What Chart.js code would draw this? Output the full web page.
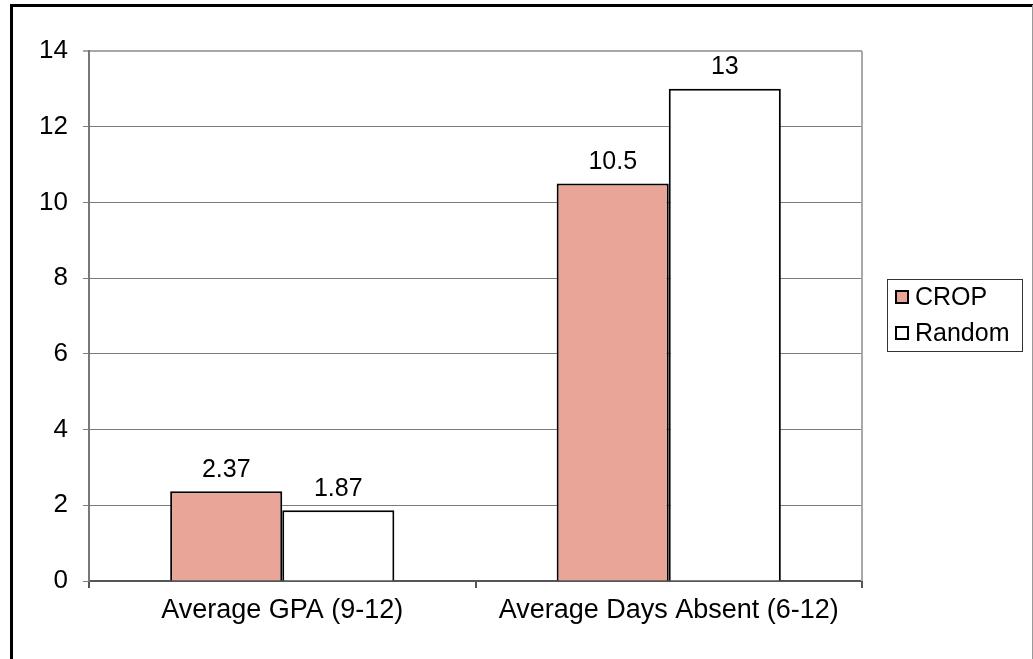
<!DOCTYPE html>
<html>
<head>
<meta charset="utf-8">
<script src="https://cdn.jsdelivr.net/npm/chart.js@4/dist/chart.umd.min.js"></script>
<style>
  html, body { margin: 0; padding: 0; background: #fff; }
  #wrap { width: 1033px; height: 659px; position: relative; }
</style>
</head>
<body>
<div id="wrap"><canvas id="myChart" width="1033" height="659"></canvas></div>
<script>
// data
const categories = ['Average GPA (9-12)', 'Average Days Absent (6-12)'];
const cropValues = [2.37, 10.5];
const randomValues = [1.87, 13];
const seriesNames = ['CROP', 'Random'];
const yTicks = [0, 2, 4, 6, 8, 10, 12, 14];

const FONT = '"Liberation Sans", Arial, sans-serif';
const cropColor = '#E8A598';

// outer frame, plot border, value labels and legend
const decor = {
    id: 'decor',
    beforeDraw(chart) {
        const c = chart.ctx;
        c.save();
        c.fillStyle = '#fff';
        c.fillRect(0, 0, chart.width, chart.height);
        c.strokeStyle = '#000';
        c.lineWidth = 3;
        c.beginPath();
        c.moveTo(11.5, 659);
        c.lineTo(11.5, 5.5);
        c.lineTo(1033, 5.5);
        c.stroke();
        c.strokeStyle = '#999';
        c.lineWidth = 1;
        c.beginPath();
        c.moveTo(1032.5, 5);
        c.lineTo(1032.5, 659);
        c.stroke();
        c.restore();
    },
    afterDatasetsDraw(chart) {
        const c = chart.ctx;
        const a = chart.chartArea;
        c.save();
        // right edge of plot
        c.strokeStyle = '#a8a8a8';
        c.lineWidth = 2;
        c.beginPath();
        c.moveTo(a.right, a.top);
        c.lineTo(a.right, a.bottom);
        c.stroke();
        // value labels
        c.fillStyle = '#000';
        c.font = '25px ' + FONT;
        c.textAlign = 'center';
        c.textBaseline = 'bottom';
        chart.data.datasets.forEach((ds, i) => {
            chart.getDatasetMeta(i).data.forEach((bar, j) => {
                c.fillText(String(ds.data[j]), bar.x, bar.y - 9);
            });
        });
        // legend
        c.strokeStyle = '#333';
        c.lineWidth = 1;
        c.strokeRect(887.5, 279.5, 135, 72);
        chart.data.datasets.forEach((ds, i) => {
            const cy = 297 + i * 36;
            c.fillStyle = ds.backgroundColor;
            c.fillRect(896, cy - 6, 12, 12);
            c.strokeStyle = '#000';
            c.lineWidth = 2;
            c.strokeRect(896, cy - 6, 12, 12);
            c.fillStyle = '#000';
            c.textAlign = 'left';
            c.textBaseline = 'middle';
            c.fillText(ds.label, 915, cy + 1);
        });
        c.restore();
    }
};

const ctx = document.getElementById('myChart').getContext('2d');
const myChart = new Chart(ctx, {
    type: 'bar',
    data: {
        labels: categories,
        datasets: [{
            label: seriesNames[0],
            data: cropValues,
            backgroundColor: cropColor,
            borderColor: '#000',
            borderWidth: 2
        }, {
            label: seriesNames[1],
            data: randomValues,
            backgroundColor: '#fff',
            borderColor: '#000',
            borderWidth: 2
        }]
    },
    options: {
        responsive: false,
        animation: false,
        events: [],
        categoryPercentage: 0.58,
        barPercentage: 1,
        layout: { padding: { left: 0, top: 51, right: 171, bottom: 0 } },
        plugins: { legend: { display: false }, tooltip: { enabled: false } },
        scales: {
            x: {
                grid: { drawOnChartArea: false, tickLength: 7, color: '#555', lineWidth: 2 },
                border: { color: '#555', width: 2 },
                ticks: { color: '#000', font: { family: FONT, size: 27 }, padding: 6, maxRotation: 0 },
                afterFit(s) { s.height = 78; }
            },
            y: {
                min: 0,
                max: 14,
                afterBuildTicks(s) { s.ticks = yTicks.map(v => ({ value: v })); },
                grid: {
                    color: ctx => ctx.tick && ctx.tick.value === 14 ? '#a8a8a8' : '#7a7a7a',
                    lineWidth: ctx => ctx.tick && ctx.tick.value === 14 ? 2 : 1,
                    tickLength: 6
                },
                border: { color: '#777', width: 2 },
                ticks: { color: '#000', font: { family: FONT, size: 26 }, padding: 15 },
                afterFit(s) { s.width = 89; }
            }
        }
    },
    plugins: [decor]
});
</script>
</body>
</html>
